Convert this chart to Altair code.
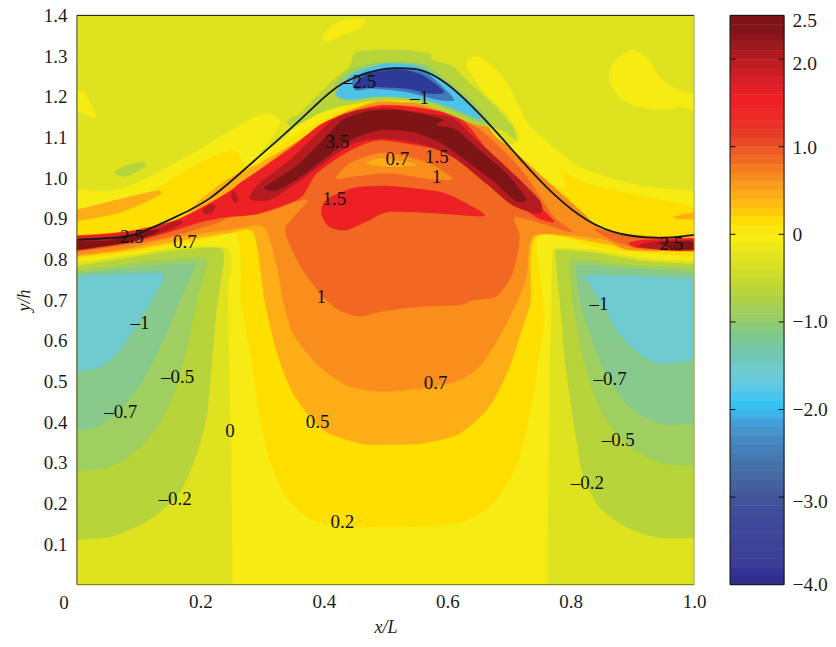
import altair as alt
import pandas as pd

SERIF = "Liberation Serif"
INK = "#1c1c1c"

# ---- filled contour regions, in (x/L, y/h) units, painted from back to front ----
left_lobe = [(-.02,1.22),(.0,1.216),(.013,1.208),(.032,1.147),(.01,1.16),(-.02,1.17)]
top_lobe = [(.398,1.347),(.415,1.376),(.447,1.393),(.468,1.388),(.458,1.368),(.431,1.352),(.404,1.335)]
right_lobe = [(.862,1.249),(.873,1.29),(.9,1.315),(.927,1.29),(.943,1.249),(.975,1.216),(1.03,1.2),(1.03,1.147),(.983,1.175),(.954,1.167),(.911,1.175),(.878,1.2)]
yellow_main = [(.2517,-.03),(.2517,.1),(.25,.373),(.245,.70),(.25,.78),(.242,.828),(.161,.83),(.08,.81),(-.03,.79),(-.03,.975),(.053,.967),(.107,.995),(.188,1.061),(.269,1.135),(.307,1.159),(.329,1.143),(.318,1.102),(.296,1.06),(.33,1.09),(.36,1.13),(.43,1.2),(.5,1.23),(.57,1.2),(.63,1.14),(.68,1.09),(.70,1.08),(.717,1.098),(.706,1.135),(.69,1.167),(.657,1.216),(.63,1.282),(.652,1.298),(.69,1.249),(.711,1.192),(.73,1.135),(.765,1.085),(.814,1.028),(.868,.999),(.922,.979),(1.03,.964),(1.03,.795),(.922,.803),(.841,.822),(.776,.827),(.77,.80),(.765,.4),(.7625,.1),(.7625,-.03)]
leaf_green = [(.061,1.012),(.075,1.028),(.107,1.04),(.11,1.028),(.08,1.004)]

green1_l = [(-.03,.11),(.053,.118),(.107,.151),(.145,.192),(.172,.241),(.194,.323),(.21,.413),(.218,.536),(.226,.675),(.237,.79),(.231,.827),(.161,.822),(.08,.803),(-.03,.778)]
green2_l = [(-.03,.276),(.053,.29),(.096,.331),(.134,.397),(.161,.487),(.18,.594),(.194,.70),(.21,.782),(.204,.803),(.134,.799),(-.03,.766)]
green3_l = [(-.03,.381),(.026,.385),(.07,.43),(.107,.504),(.145,.618),(.167,.70),(.191,.782),(.185,.79),(.107,.782),(-.03,.762)]
teal_l = [(-.03,.524),(.032,.532),(.07,.577),(.102,.651),(.121,.70),(.14,.754),(.129,.766),(.037,.762),(-.03,.755)]
green1_r = [(1.03,.116),(.943,.116),(.889,.143),(.846,.192),(.819,.274),(.808,.372),(.792,.536),(.784,.675),(.776,.807),(.781,.823),(.841,.815),(.922,.795),(1.03,.787)]
green2_r = [(1.03,.29),(.949,.299),(.895,.34),(.851,.422),(.824,.536),(.806,.675),(.798,.782),(.808,.803),(.895,.786),(1.03,.778)]
green3_r = [(1.03,.401),(.949,.395),(.895,.438),(.857,.52),(.835,.602),(.819,.675),(.808,.774),(.819,.786),(.895,.778),(1.03,.766)]
teal_r = [(1.03,.557),(.949,.544),(.91,.569),(.878,.618),(.857,.675),(.83,.741),(.835,.762),(1.03,.75)]

golden = [(.266,.70),(.285,.536),(.296,.413),(.312,.307),(.339,.217),(.382,.159),(.44,.143),(.544,.143),(.62,.151),(.674,.20),(.711,.29),(.733,.413),(.746,.536),(.757,.675),(.749,.857),(.868,.823),(1.03,.806),(1.03,.922),(.949,.946),(.868,.971),(.824,.987),(.784,1.02),(.792,.979),(.76,.99),(.7,1.06),(.63,1.13),(.5,1.21),(.37,1.12),(.28,1.03),(.253,1.069),(.188,1.028),(.134,.979),(.08,.938),(-.03,.917),(-.03,.797),(.08,.815),(.161,.836),(.226,.856),(.258,.863),(.266,.80)]
patch_left = [(-.03,.913),(.053,.942),(.123,.967),(.137,.964),(.118,.946),(.064,.913),(-.03,.889)]
patch_right = [(.967,.905),(1.03,.922),(1.03,.899),(.986,.899)]
light_orange = [(.304,.70),(.323,.577),(.35,.471),(.398,.381),(.458,.348),(.49,.344),(.56,.348),(.62,.372),(.668,.438),(.701,.536),(.722,.634),(.735,.70),(.744,.857),(.868,.836),(1.03,.817),(1.03,.86),(.9,.855),(.851,.872),(.8,.92),(.75,.98),(.71,1.04),(.68,1.08),(.62,1.14),(.49,1.19),(.37,1.1),(.296,1.036),(.242,.995),(.188,.93),(.161,.889),(.08,.864),(-.03,.848),(-.03,.803),(.08,.822),(.161,.844),(.242,.864),(.285,.868),(.299,.758)]
orange = [(.334,.70),(.35,.618),(.388,.544),(.436,.491),(.49,.475),(.56,.483),(.62,.503),(.657,.544),(.69,.626),(.714,.70),(.728,.758),(.738,.857),(.797,.86),(.857,.848),(.895,.823),(1.03,.819),(1.03,.848),(.9,.86),(.851,.872),(.814,.922),(.76,.995),(.706,1.069),(.679,1.1),(.652,1.151),(.598,1.18),(.49,1.185),(.431,1.159),(.377,1.11),(.323,1.053),(.274,.995),(.215,.93),(.161,.889),(.08,.864),(-.03,.848),(-.03,.807),(.08,.827),(.15,.852),(.242,.872),(.302,.88),(.323,.79)]
dark_orange = [(.398,.709),(.425,.675),(.458,.66),(.49,.671),(.555,.684),(.62,.688),(.641,.70),(.679,.709),(.706,.766),(.717,.856),(.711,.905),(.80,.868),(.77,.91),(.72,1.02),(.66,1.11),(.6,1.16),(.49,1.175),(.42,1.145),(.36,1.09),(.29,1.011),(.215,.914),(.161,.881),(.08,.857),(-.03,.84),(-.03,.815),(.08,.836),(.15,.856),(.226,.889),(.242,.901),(.269,.913),(.323,.93),(.374,.946),(.339,.88),(.344,.84),(.366,.774)]
dark_orange_r = [(.84,.875),(.9,.858),(1.03,.85),(1.03,.825),(.922,.825),(.868,.847)]
core_orange = [(.42,.999),(.442,1.036),(.49,1.061),(.539,1.052),(.576,1.032),(.609,.997),(.566,.999),(.506,1.012),(.452,1.005)]
core_light = [(.469,1.036),(.49,1.048),(.533,1.04),(.55,1.032),(.506,1.028)]

red_main = [(-.03,.856),(.08,.868),(.161,.897),(.215,.938),(.25,.97),(.264,.987),(.296,1.02),(.35,1.077),(.393,1.13),(.436,1.159),(.49,1.178),(.544,1.175),(.598,1.159),(.63,1.135),(.668,1.061),(.706,.987),(.744,.938),(.773,.893),(.749,.90),(.727,.922),(.706,.954),(.668,1.02),(.625,1.061),(.566,1.077),(.49,1.093),(.442,1.068),(.388,1.011),(.361,.95),(.296,.913),(.242,.904),(.204,.893),(.15,.868),(.08,.84),(-.03,.817)]
red_right = [(.895,.84),(.922,.848),(1.03,.852),(1.03,.822),(.949,.825),(.905,.83)]
red_blob = [(.396,.913),(.404,.946),(.447,.975),(.506,.98),(.587,.966),(.63,.938),(.66,.907),(.587,.913),(.506,.917),(.474,.897),(.436,.872),(.409,.88)]

crimson_main = [(.28,.95),(.296,.987),(.345,1.044),(.393,1.114),(.42,1.147),(.458,1.167),(.506,1.171),(.566,1.159),(.609,1.147),(.641,1.102),(.695,1.028),(.749,.946),(.749,.913),(.706,.933),(.663,.987),(.609,1.052),(.555,1.085),(.496,1.097),(.447,1.085),(.399,1.036),(.355,.987),(.312,.946)]
crimson_a = [(.204,.922),(.215,.934),(.225,.93),(.218,.914),(.207,.912)]
crimson_b = [(.25,.958),(.255,.967),(.261,.946),(.255,.94)]
crimson_band = [(-.03,.848),(.08,.86),(.134,.877),(.161,.895),(.17,.889),(.134,.864),(.08,.844),(-.03,.819)]
crimson_right = [(.91,.832),(.938,.844),(1.03,.848),(1.03,.823),(.965,.822)]
maroon_main = [(.304,.975),(.318,.991),(.361,1.036),(.409,1.11),(.431,1.143),(.469,1.163),(.517,1.167),(.566,1.155),(.593,1.143),(.582,1.13),(.614,1.118),(.652,1.069),(.695,1.012),(.727,.95),(.711,.944),(.673,.995),(.63,1.044),(.587,1.089),(.544,1.114),(.49,1.118),(.442,1.093),(.404,1.052),(.366,1.007),(.323,.97)]
maroon_band = [(-.03,.845),(.05,.845),(.07,.856),(.107,.868),(.134,.872),(.113,.856),(.075,.84),(-.03,.819)]
maroon_right = [(.943,.84),(.959,.844),(1.03,.844),(1.03,.827),(.97,.825)]

crest_lime = [(.35,1.15),(.361,1.159),(.393,1.208),(.415,1.241),(.442,1.274),(.45,1.306),(.48,1.3145),(.533,1.3145),(.571,1.306),(.576,1.29),(.609,1.274),(.636,1.233),(.673,1.183),(.706,1.126),(.711,1.093),(.689,1.118),(.641,1.134),(.587,1.167),(.533,1.19),(.48,1.19),(.425,1.175),(.393,1.159),(.355,1.13),(.34,1.135)]
crest_green = [(.42,1.233),(.442,1.265),(.48,1.282),(.533,1.286),(.566,1.278),(.603,1.237),(.641,1.188),(.668,1.138),(.654,1.134),(.609,1.165),(.566,1.188),(.517,1.197),(.48,1.197),(.442,1.19),(.42,1.2)]
crest_cyan = [(.431,1.233),(.447,1.257),(.48,1.274),(.506,1.282),(.555,1.274),(.598,1.233),(.63,1.192),(.654,1.147),(.641,1.15),(.609,1.171),(.566,1.192),(.517,1.2),(.48,1.2),(.442,1.192),(.42,1.204)]
crest_blue = [(.447,1.241),(.469,1.261),(.523,1.27),(.566,1.257),(.598,1.216),(.611,1.192),(.587,1.192),(.533,1.212),(.48,1.22),(.452,1.216)]
crest_navy = [(.452,1.233),(.474,1.257),(.523,1.267),(.56,1.253),(.595,1.212),(.571,1.208),(.533,1.22),(.48,1.224),(.452,1.22)]

LIME = "#DFE31F"
REGIONS = [
    (yellow_main, "#F6EC14"), (left_lobe, "#F6EC14"), (top_lobe, "#F6EC14"), (right_lobe, "#F6EC14"),
    (leaf_green, "#B7D43A"),
    (green1_l, "#B7D43A"), (green2_l, "#A0CF61"), (green3_l, "#88C98C"), (teal_l, "#6FCBD0"),
    (green1_r, "#B7D43A"), (green2_r, "#A0CF61"), (green3_r, "#88C98C"), (teal_r, "#6FCBD0"),
    (golden, "#FFDF00"), (light_orange, "#FDAE17"), (patch_left, "#FDAE17"), (patch_right, "#FDAE17"),
    (orange, "#F98E1C"), (dark_orange, "#F26722"), (dark_orange_r, "#F26722"),
    (core_orange, "#F98E1C"), (core_light, "#FDAE17"),
    (red_main, "#ED2024"), (red_right, "#ED2024"), (red_blob, "#ED2024"),
    (crimson_main, "#B51B20"), (crimson_a, "#B51B20"), (crimson_b, "#B51B20"), (crimson_band, "#B51B20"), (crimson_right, "#B51B20"),
    (maroon_main, "#7D1416"), (maroon_band, "#7D1416"), (maroon_right, "#7D1416"),
    (crest_lime, "#B7D43A"), (crest_green, "#9ACD65"), (crest_cyan, "#4FC3E6"), (crest_blue, "#4179BB"), (crest_navy, "#2E3A97"),
]

# ---- the wall curve ----
wave_x = [0,.07,.107,.161,.215,.269,.323,.377,.431,.49,.517,.555,.598,.641,.679,.717,.76,.814,.868,.922,.965,1]
wave_y = [.848,.854,.868,.905,.95,1.018,1.09,1.165,1.233,1.266,1.27,1.266,1.233,1.175,1.114,1.049,.979,.909,.868,.854,.854,.86]

# ---- contour labels ----
label_text = ["–2.5","–1","3.5","0.7","1.5","1","1.5","2.5","0.7","2.5","1","–1","–0.5","–0.7","0","0.5","–0.2","0.2","0.7","–1","–0.7","–0.5","–0.2"]
label_x = [.458,.555,.422,.519,.583,.583,.417,.089,.175,.963,.396,.102,.163,.071,.248,.39,.159,.43,.581,.846,.864,.877,.827]
label_y = [1.236,1.196,1.088,1.046,1.052,1.002,.948,.855,.843,.838,.708,.644,.511,.425,.378,.40,.211,.155,.496,.69,.506,.356,.25]

# ---- axes ----
x_tick_pos = [.2,.4,.6,.8,1.0]
y_tick_pos = [.1,.2,.3,.4,.5,.6,.7,.8,.9,1.0,1.1,1.2,1.3,1.4]
origin_text = ["0"]
origin_x = [-.021]
origin_y = [-.044]

# ---- colour bar ----
cb_levels = [2.5,2.4,2.3,2.2,2.1,2.0,1.9,1.8,1.7,1.6,1.5,1.4,1.3,1.2,1.1,1.0,.9,.8,.7,.6,.5,.4,.3,.2,.1,0,-.1,-.2,-.3,-.4,-.5,-.6,-.7,-.8,-.9,-1.0,-1.1,-1.2,-1.3,-1.4,-1.5,-1.6,-1.7,-1.8,-1.9,-2.0,-2.1,-2.2,-2.3,-2.4,-2.5,-2.6,-2.7,-2.8,-2.9,-3.0,-3.1,-3.2,-3.3,-3.4,-3.5,-3.6,-3.7,-3.8,-3.9]
cb_bottoms = [2.4,2.3,2.2,2.1,2.0,1.9,1.8,1.7,1.6,1.5,1.4,1.3,1.2,1.1,1.0,.9,.8,.7,.6,.5,.4,.3,.2,.1,0,-.1,-.2,-.3,-.4,-.5,-.6,-.7,-.8,-.9,-1.0,-1.1,-1.2,-1.3,-1.4,-1.5,-1.6,-1.7,-1.8,-1.9,-2.0,-2.1,-2.2,-2.3,-2.4,-2.5,-2.6,-2.7,-2.8,-2.9,-3.0,-3.1,-3.2,-3.3,-3.4,-3.5,-3.6,-3.7,-3.8,-3.9,-4.0]
cb_colors = ["#7D1416","#7F1518","#8A161A","#9C191E","#AD1B20","#BC1C22","#CA1D24","#D81E26","#E61F27","#EE2026","#ED2327","#EC2A27","#EA3127","#E83B27","#E84927","#EE5B25","#F06A23","#F47B20","#F78C1E","#FA9C1C","#FDAB18","#FFBB12","#FFCB0A","#FFDC02","#FBE60F","#F7EC14","#EEE817","#E3E41D","#D9E120","#CEDD2A","#C3D932","#B8D53A","#ADD248","#A4CF58","#9ACD65","#8CCB78","#81C98B","#7AC89B","#74C8AD","#70C9BE","#6FCBD0","#68C9DB","#5DC8E3","#48C5EC","#34C3F2","#3BB5E8","#449EDB","#4594CB","#4689C0","#4680B8","#4679B0","#4670A8","#456AA3","#43629E","#425A9B","#415399","#404E9A","#3F4A9A","#3E479A","#3E4599","#3D4398","#3C4097","#3B3D96","#333395","#2F2E8F"]
cb_tick_values = [2.0,1.0,0,-1.0,-2.0,-3.0]
cb_label_pos = [2.44,1.95,.99,0,-1.0,-2.0,-3.05,-4.0]


def side(p):
    """Which outside edge a polygon vertex lies past, if any."""
    if p[0] < 0: return "L"
    if p[0] > 1: return "R"
    if p[1] < 0: return "B"
    return None


def settle_edges(pts):
    """Add vertices further outside the frame so that curves leave the plot squarely."""
    out = []
    n = len(pts)
    for k, p in enumerate(pts):
        out.append(p)
        q = pts[(k + 1) % n]
        s = side(p)
        if s and s == side(q):
            if s == "L":
                out += [(-.12, p[1]), (-.12, q[1])]
            elif s == "R":
                out += [(1.12, p[1]), (1.12, q[1])]
            else:
                out += [(p[0], -.12), (q[0], -.12)]
    return out


xs = alt.Scale(domain=[0,1], nice=False, zero=False)
ys = alt.Scale(domain=[0,1.4], nice=False, zero=False)
x_axis = alt.Axis(
    values=x_tick_pos, title="x/L", grid=False, ticks=False, domain=False, format=".1f",
    labelFont=SERIF, labelFontSize=19, labelColor=INK, labelPadding=8, labelBound=False, labelFlush=False,
    titleFont=SERIF, titleFontSize=18, titleFontStyle="italic", titleFontWeight="normal", titleColor=INK, titlePadding=7)
y_axis = alt.Axis(
    values=y_tick_pos, title="y/h", grid=False, ticks=False, domain=False, format=".1f",
    labelFont=SERIF, labelFontSize=19, labelColor=INK, labelPadding=10, labelBound=False, labelFlush=False,
    titleFont=SERIF, titleFontSize=18, titleFontStyle="italic", titleFontWeight="normal", titleColor=INK, titlePadding=10)
X = lambda: alt.X("x:Q", scale=xs, axis=x_axis)
Y = lambda: alt.Y("y:Q", scale=ys, axis=y_axis)

bg = alt.Chart(pd.DataFrame({"x":[0],"x2":[1],"y":[0],"y2":[1.4]})).mark_rect(fill=LIME).encode(
    x=X(), x2="x2:Q", y=Y(), y2="y2:Q")

layers = [bg]
for pts, col in REGIONS:
    pts = settle_edges(pts)
    df = pd.DataFrame({"x":[p[0] for p in pts], "y":[p[1] for p in pts], "i":list(range(len(pts)))})
    layers.append(alt.Chart(df).mark_line(fill=col, stroke=col, strokeWidth=.4, interpolate="cardinal-closed",
                                          tension=.25, clip=True).encode(x=X(), y=Y(), order="i:Q"))

wave_df = pd.DataFrame({"x":wave_x,"y":wave_y,"i":list(range(len(wave_x)))})
layers.append(alt.Chart(wave_df).mark_line(color="#1a1a1a", strokeWidth=1.8, interpolate="natural").encode(x=X(), y=Y(), order="i:Q"))

lab_df = pd.DataFrame({"x":label_x,"y":label_y,"t":label_text})
layers.append(alt.Chart(lab_df).mark_text(font=SERIF, fontSize=19, color="#111").encode(x=X(), y=Y(), text="t:N"))
org_df = pd.DataFrame({"x":origin_x,"y":origin_y,"t":origin_text})
layers.append(alt.Chart(org_df).mark_text(font=SERIF, fontSize=19, color=INK).encode(x=X(), y=Y(), text="t:N"))

edges = [(0,1,1.4,1.4,"#111"),(0,0,0,1.4,"#3d3d14"),(0,1,0,0,"#6f6c10"),(1,1,0,1.4,"#a9a96a")]
for a,b,c,d,col in edges:
    df = pd.DataFrame({"x":[a],"x2":[b],"y":[c],"y2":[d]})
    layers.append(alt.Chart(df).mark_rule(color=col, strokeWidth=1).encode(x=X(), x2="x2:Q", y=Y(), y2="y2:Q"))

main = alt.layer(*layers).properties(width=618, height=570)

cb_df = pd.DataFrame({"y":cb_levels,"y2":cb_bottoms,"c":cb_colors})
cx = alt.Scale(domain=[0,1], nice=False, zero=False)
cy = alt.Scale(domain=[-4,2.5], nice=False, zero=False)
cb_axis = alt.Axis(
    orient="right", values=cb_label_pos, title=None, grid=False, ticks=False, domain=False,
    labelExpr="datum.value == 0 ? '0' : replace(format(round(datum.value*2)/2, '.1f'), '-', '–')",
    labelFont=SERIF, labelFontSize=19.5, labelColor=INK, labelPadding=8, labelBound=False, labelFlush=False)
CY = lambda: alt.Y("y:Q", scale=cy, axis=cb_axis)
bar = alt.Chart(cb_df).mark_rect(strokeWidth=.6).encode(
    y=CY(), y2="y2:Q", fill=alt.Fill("c:N", scale=None), stroke=alt.Stroke("c:N", scale=None))
tl = pd.DataFrame({"x":[0]*6,"x2":[.1]*6,"y":cb_tick_values})
tr = pd.DataFrame({"x":[.9]*6,"x2":[1]*6,"y":cb_tick_values})
def ticks(df):
    return alt.Chart(df).mark_rule(color="#111", strokeWidth=1).encode(
        x=alt.X("x:Q", scale=cx, axis=None), x2="x2:Q", y=CY())
box = alt.Chart(pd.DataFrame({"x":[0],"x2":[1],"y":[-4],"y2":[2.5]})).mark_rect(fillOpacity=0, stroke="#111", strokeWidth=1).encode(
    x=alt.X("x:Q", scale=cx, axis=None), x2="x2:Q", y=CY(), y2="y2:Q")
colorbar = alt.layer(bar, ticks(tl), ticks(tr), box).properties(width=54, height=570)

chart = alt.hconcat(main, colorbar, spacing=36, bounds="flush").properties(padding={"left":7,"top":-2,"right":0,"bottom":0}).configure_view(stroke=None)
chart.save("out.html", embed_options={"renderer": "svg", "actions": False})
